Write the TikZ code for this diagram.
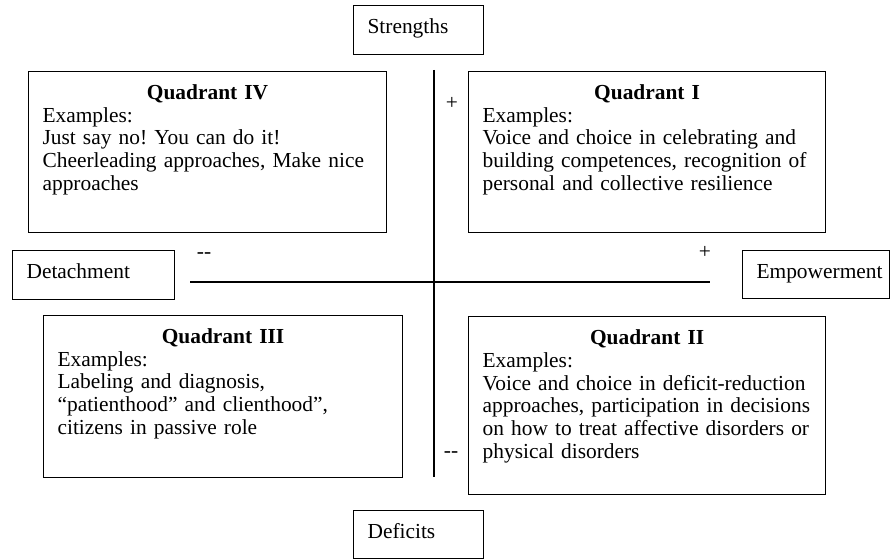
\documentclass[tikz,border=0pt]{standalone}
\usepackage{fontspec}
\setmainfont{Liberation Serif}
\frenchspacing
\usetikzlibrary{positioning}
\tikzset{quad/.style={draw,line width=1.1pt,anchor=north west,inner xsep=14pt,inner ysep=0pt,text height=28pt,font=\fontsize{21.4}{22.7}\selectfont,execute at begin node={\rightskip=0pt plus 1fil minus 12pt\relax}}}
\tikzset{pole/.style={quad,text width=#1}}
\tikzset{sign/.style={inner sep=0pt,font=\fontsize{21.4}{22.7}\selectfont}}
\tikzset{axis/.style={line width=1.1pt}}
\newcommand{\qtitle}[1]{{\centering\bfseries #1\par}}

\begin{document}
\begin{tikzpicture}[x=1pt,y=-1pt]
\useasboundingbox (0,0) rectangle (891,559);
% quadrants
\node[quad,text width=330pt,text depth=133pt](q4) at (28,71){\qtitle{Quadrant IV}Examples:\\Just say no! You can do it!\\Cheerleading approaches, Make nice\\approaches};
\node[quad,text width=329pt,text depth=133pt,right=81pt of q4](q1){\qtitle{Quadrant I}Examples:\\Voice and choice in celebrating and\\building competences, recognition of\\personal and collective resilience};
\node[quad,text width=329pt,text depth=150pt,below=83pt of q1](q2){\qtitle{Quadrant II}Examples:\\Voice and choice in deficit-reduction\\approaches, participation in decisions\\on how to treat affective disorders or\\physical disorders};
\node[quad,text width=331pt,text depth=134pt](q3) at (43,315){\qtitle{Quadrant III}Examples:\\Labeling and diagnosis,\\“patienthood” and clienthood”,\\citizens in passive role};
% poles
\node[pole=102pt,text depth=21pt](strengths) at (353,5){Strengths};
\node[pole=102pt,text depth=20pt](deficits) at (353,510){Deficits};
\node[pole=134pt,text depth=21pt](detach) at (12,250){Detachment};
\node[pole=119pt,text depth=20pt](empower) at (742,250){Empowerment};
% axes
\coordinate (vtop) at (434,70);
\coordinate (vbot) at (434,477);
\coordinate (hleft) at (190,282);
\coordinate (hright) at (710,282);
\draw[axis](vtop) -- (vbot);
\draw[axis](hleft) -- (hright);
\node[sign](vplus) at (452,103){+};
\node[sign](vminus) at (451,455){{-}{-}};
\node[sign](hminus) at (204,256){{-}{-}};
\node[sign](hplus) at (705,252){+};
\end{tikzpicture}
\end{document}
